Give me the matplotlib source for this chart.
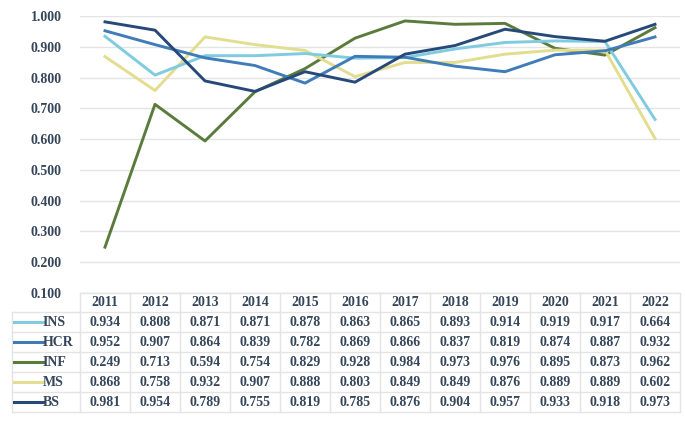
import matplotlib
matplotlib.use("Agg")
from matplotlib import pyplot as plt

# Data
years = ['2011', '2012', '2013', '2014', '2015', '2016',
         '2017', '2018', '2019', '2020', '2021', '2022']
ins = [0.934, 0.808, 0.871, 0.871, 0.878, 0.863, 0.865, 0.893, 0.914, 0.919, 0.917, 0.664]
hcr = [0.952, 0.907, 0.864, 0.839, 0.782, 0.869, 0.866, 0.837, 0.819, 0.874, 0.887, 0.932]
inf = [0.249, 0.713, 0.594, 0.754, 0.829, 0.928, 0.984, 0.973, 0.976, 0.895, 0.873, 0.962]
ms = [0.868, 0.758, 0.932, 0.907, 0.888, 0.803, 0.849, 0.849, 0.876, 0.889, 0.889, 0.602]
bs = [0.981, 0.954, 0.789, 0.755, 0.819, 0.785, 0.876, 0.904, 0.957, 0.933, 0.918, 0.973]
y_ticks = [0.1, 0.2, 0.3, 0.4, 0.5, 0.6, 0.7, 0.8, 0.9, 1.0]

series_names = ['INS', 'HCR', 'INF', 'MS', 'BS']
series_vals = [ins, hcr, inf, ms, bs]
colors = ['#7fcbe0', '#3f7cb8', '#5b7b3c', '#e3dd8f', '#27497a']

txt_color = '#36465a'
grid_color = '#e4e4e4'
plt.rcParams['font.family'] = ['Liberation Serif', 'DejaVu Serif']
plt.rcParams['font.weight'] = 'bold'

W, H = 685, 423
fig = plt.figure(figsize=(W / 100, H / 100), dpi=100)

# plot area in pixel positions
left_px, right_px = 80, 680
top_px, bot_px = 16, 293
ax = fig.add_axes([left_px / W, 1 - bot_px / H, (right_px - left_px) / W, (bot_px - top_px) / H])
x = list(range(len(years)))
# draw order so dark blue sits on top like the original
for i in [2, 3, 0, 1, 4]:
    ax.plot(x, series_vals[i], color=colors[i], lw=2.1, solid_joinstyle='round', zorder=3)
ax.set_xlim(-0.5, len(years) - 0.5)
ax.set_ylim(0.1, 1.0)
ax.set_yticks(y_ticks)
ax.set_yticklabels(['%.3f' % v for v in y_ticks])
ax.set_xticks([])
ax.tick_params(axis='y', length=0, pad=13, labelsize=10, labelcolor=txt_color)
for lab in ax.get_yticklabels():
    lab.set_fontweight('bold')
ax.grid(axis='y', color=grid_color, lw=1)
for s in ax.spines.values():
    s.set_visible(False)

# data table underneath
tab_top, tab_bot = 293, 412
tx = fig.add_axes([left_px / W, 1 - tab_bot / H, (right_px - left_px) / W, (tab_bot - tab_top) / H])
tx.set_xlim(-0.5, len(years) - 0.5)
tx.set_ylim(tab_bot, tab_top)
tx.axis('off')
col_w = (right_px - left_px) / len(years)
leg_left = -0.5 - (left_px - 12) / col_w
header_bot = 312
row_h = 20
line_kw = dict(color=grid_color, lw=1, clip_on=False)

# horizontal lines
tx.plot([-0.5, len(years) - 0.5], [tab_top, tab_top], **line_kw)
for r in range(len(series_names) + 1):
    yy = header_bot + r * row_h
    tx.plot([leg_left, len(years) - 0.5], [yy, yy], **line_kw)
# vertical lines
tx.plot([leg_left, leg_left], [header_bot, tab_bot], **line_kw)
for c in range(len(years) + 1):
    xx = c - 0.5
    tx.plot([xx, xx], [tab_top, tab_bot], **line_kw)

for c, yr in enumerate(years):
    tx.text(c, (tab_top + header_bot) / 2, yr, ha='center', va='center',
            fontsize=10, fontweight='bold', color=txt_color)

for r, (name, vals) in enumerate(zip(series_names, series_vals)):
    yc = header_bot + r * row_h + row_h / 2
    x0 = leg_left + 2 / col_w
    x1 = leg_left + 31 / col_w
    tx.plot([x0, x1], [yc, yc], color=colors[r], lw=2.2, clip_on=False)
    tx.text(x1, yc, name, ha='left', va='center', fontsize=10,
            fontweight='bold', color=txt_color)
    for c, v in enumerate(vals):
        tx.text(c, yc, '%.3f' % v, ha='center', va='center', fontsize=10,
                fontweight='bold', color=txt_color)

fig.savefig('out.png', dpi=100, facecolor='white')
